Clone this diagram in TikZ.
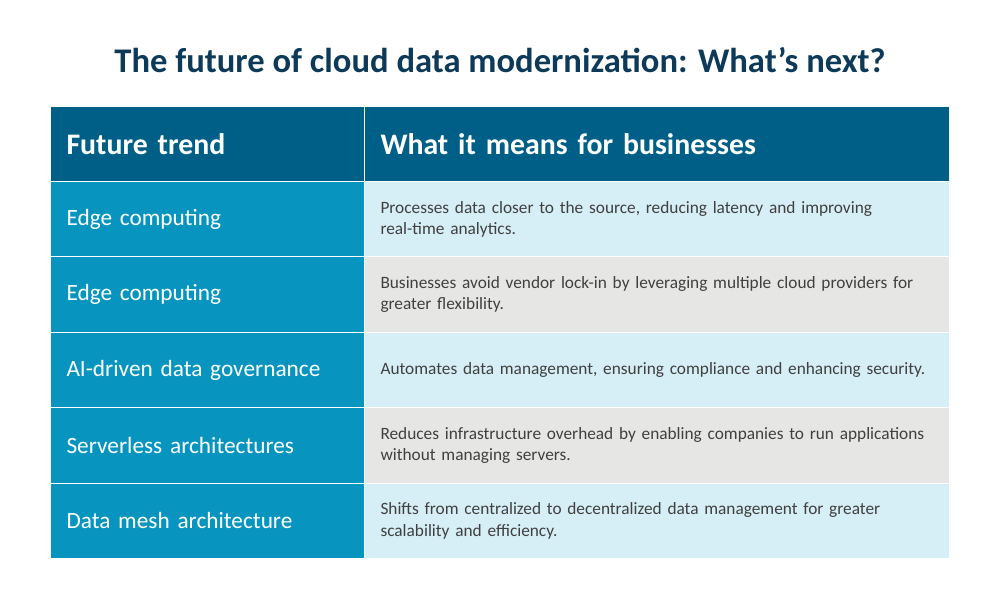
\documentclass[tikz,border=0pt]{standalone}
\usepackage{fontspec}
\setmainfont{Carlito}
\usetikzlibrary{positioning}

\definecolor{titlenavy}{HTML}{0E3A5A}
\definecolor{headblue}{HTML}{005F87}
\definecolor{trendblue}{HTML}{0795C0}
\definecolor{lightrow}{HTML}{D6EEF5}
\definecolor{grayrow}{HTML}{E6E6E5}
\definecolor{bodytext}{HTML}{404040}

\tikzset{
    cell/.style={rectangle, anchor=north west, draw=white, line width=1pt, inner xsep=16pt, inner ysep=0pt, align=left},
    trendcell/.style={cell, fill=trendblue, text=white, minimum width=314pt, text width=282pt, font=\fontsize{23.3}{27}\selectfont},
    meanscell/.style={cell, text=bodytext, minimum width=585pt, text width=553pt, font=\fontsize{17.3}{21.5}\selectfont}
}

\begin{document}
\begin{tikzpicture}[x=1pt, y=-1pt]
    \useasboundingbox (0,0) rectangle (1000,603);
    \draw (500, 60) node[titlenavy, font=\bfseries\fontsize{34.6}{38}\selectfont] (title) {The future of cloud data modernization: What’s next?};

    \draw (50, 106) node[cell, fill=headblue, text=white, minimum width=314pt, text width=282pt, minimum height=75pt, font=\bfseries\fontsize{29.8}{34}\selectfont] (head1) {Future trend};
    \draw (364, 106) node[cell, fill=headblue, text=white, minimum width=585pt, text width=553pt, minimum height=75pt, font=\bfseries\fontsize{29.8}{34}\selectfont] (head2) {What it means for businesses};

    \foreach \row/\trend/\means/\shade in {
        1/Edge computing/{Processes data closer to the source, reducing latency and improving\\real-time analytics.}/lightrow,
        2/Edge computing/{Businesses avoid vendor lock-in by leveraging multiple cloud providers for\\greater flexibility.}/grayrow,
        3/AI-driven data governance/{Automates data management, ensuring compliance and enhancing security.}/lightrow,
        4/Serverless architectures/{Reduces infrastructure overhead by enabling companies to run applications\\without managing servers.}/grayrow,
        5/Data mesh architecture/{Shifts from centralized to decentralized data management for greater\\scalability and efficiency.}/lightrow}{
        \draw (50, 181 + 75.4*\row - 75.4) node[trendcell, minimum height=75.4pt] (trend\row) {\trend};
        \draw (364, 181 + 75.4*\row - 75.4) node[meanscell, fill=\shade, minimum height=75.4pt] (means\row) {\means};
    }
\end{tikzpicture}
\end{document}
